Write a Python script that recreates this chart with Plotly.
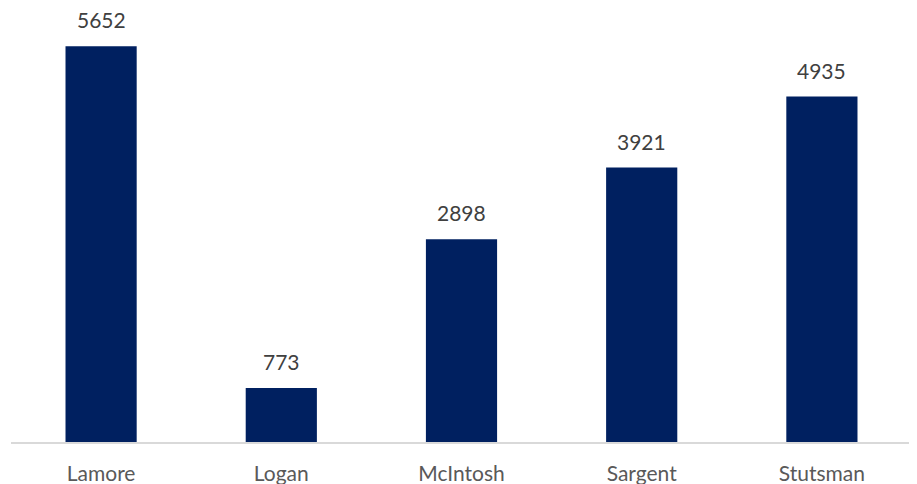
import plotly.graph_objects as go

categories = ["Lamore", "Logan", "McIntosh", "Sargent", "Stutsman"]
values = [5652, 773, 2898, 3921, 4935]

fig = go.Figure(go.Bar(
    x=categories, y=values,
    marker=dict(color="#002060", line=dict(width=0)),
    hoverinfo="x+y",
))
for c, v in zip(categories, values):
    fig.add_annotation(x=c, y=v, text=str(v), showarrow=False,
                       yanchor="bottom", yshift=12,
                       font=dict(size=21, color="#404040", family="Lato"))

fig.update_layout(
    width=909, height=476,
    margin=dict(l=3, r=5, t=14, b=42, autoexpand=False),
    paper_bgcolor="white", plot_bgcolor="white",
    bargap=0.605,
    showlegend=False,
    font=dict(family="Lato", size=21, color="#595959"),
    xaxis=dict(showline=True, linecolor="#d9d9d9", linewidth=1.5, ticks="",
               ticklabelstandoff=12, automargin=False,
               tickfont=dict(size=21, color="#595959"), showgrid=False),
    yaxis=dict(range=[0, 6000], visible=False, showgrid=False, zeroline=False,
               automargin=False),
)
fig.write_html("out.html")
